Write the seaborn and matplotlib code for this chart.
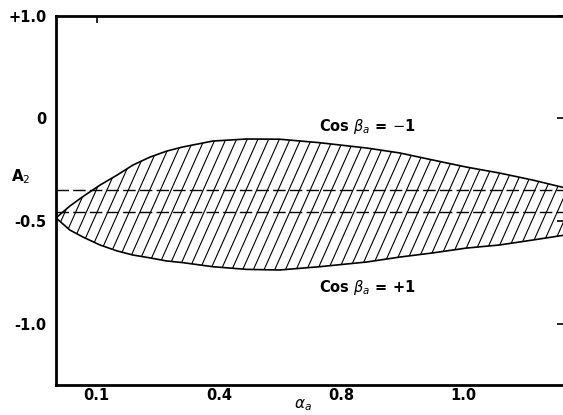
import numpy as np
import pandas as pd
import matplotlib
matplotlib.use("Agg")
import matplotlib.pyplot as plt
from matplotlib.collections import LineCollection
import seaborn as sns

# ---- data (x in plot units, ticks labelled below) ----
alpha = [0.0, 0.034, 0.066, 0.108, 0.150, 0.189, 0.231, 0.272, 0.311, 0.385,
         0.468, 0.549, 0.647, 0.763, 0.844, 0.924, 1.008, 1.089, 1.170, 1.245]
upper = [-0.485, -0.427, -0.381, -0.325, -0.276, -0.227, -0.188, -0.159, -0.139, -0.110,
         -0.100, -0.101, -0.118, -0.144, -0.168, -0.202, -0.237, -0.266, -0.300, -0.336]
lower = [-0.485, -0.544, -0.578, -0.617, -0.646, -0.666, -0.680, -0.695, -0.703, -0.723,
         -0.736, -0.739, -0.723, -0.700, -0.676, -0.656, -0.632, -0.617, -0.593, -0.570]
dashed_levels = [-0.349, -0.455]

xtick_pos = [0.1, 0.4, 0.7, 1.0]
xtick_labels = ["0.1", "0.4", "0.8", "1.0"]
ytick_pos = [0.5, 0.0, -0.5, -1.0]
ytick_labels = ["+1.0", "0", "-0.5", "-1.0"]

df = pd.DataFrame({"alpha": alpha, "upper": upper, "lower": lower})

sns.set_style("white")
plt.rcParams["font.family"] = ["DejaVu Sans"]
plt.rcParams["text.color"] = "black"
plt.rcParams["xtick.color"] = "black"
plt.rcParams["ytick.color"] = "black"
plt.rcParams["axes.labelcolor"] = "black"

fig = plt.figure(figsize=(5.63, 4.15), dpi=100)
L, B, R, T = 56 / 563, 1 - 385 / 415, 1.0, 1 - 16 / 415
ax = fig.add_axes([L, B, R - L, T - B])

xmin, xmax = 0.0, 1.245
ax.set_xlim(xmin, xmax)
ax.set_ylim(-1.30, 0.50)

# band
poly = ax.fill_between(df["alpha"], df["lower"], df["upper"], facecolor="none",
                       edgecolor="none")
sns.lineplot(data=df, x="alpha", y="upper", ax=ax, color="black", lw=1.2,
             estimator=None, sort=False)
sns.lineplot(data=df, x="alpha", y="lower", ax=ax, color="black", lw=1.2,
             estimator=None, sort=False)

# steep hatching clipped to band
W_px, H_px = (R - L) * 563, (T - B) * 415
slant = H_px / np.tan(np.radians(66))
spacing = 10.7
segs = []
x0 = -slant
while x0 < W_px + spacing:
    segs.append([(x0 / W_px, 0.0), ((x0 + slant) / W_px, 1.0)])
    x0 += spacing
lc = LineCollection(segs, colors="black", linewidths=0.8, transform=ax.transAxes)
ax.add_collection(lc)
lc.set_clip_path(poly.get_paths()[0], ax.transData)

for lev in dashed_levels:
    ax.axhline(lev, color="black", lw=1.0, linestyle=(0, (9, 3)))

ax.text(0.765, -0.04, r"Cos $\beta_a$ = $-$1", ha="center", va="center",
        fontsize=10.5, fontweight="bold")
ax.text(0.765, -0.825, r"Cos $\beta_a$ = +1", ha="center", va="center",
        fontsize=10.5, fontweight="bold")

ax.set_xticks(xtick_pos)
ax.set_xticklabels(xtick_labels)
ax.set_yticks(ytick_pos)
ax.set_yticklabels(ytick_labels)
ax.tick_params(axis="x", direction="in", length=5, width=1.2, labelsize=10.5,
               pad=2.5, colors="black")
ax.tick_params(axis="y", direction="inout", length=8, width=1.2, labelsize=10.5,
               pad=3, right=True, colors="black")
for lbl in ax.get_xticklabels() + ax.get_yticklabels():
    lbl.set_fontweight("bold")

top = ax.secondary_xaxis("top")
top.set_xticks([0.1])
top.set_xticklabels([""])
top.tick_params(direction="in", length=5, width=1.2, colors="black")
top.spines["top"].set_visible(False)

ax.set_xlabel(r"$\alpha_a$", fontsize=11)
ax.xaxis.set_label_coords(0.487, -0.033)
ax.set_ylabel(r"A$_2$", rotation=0, fontsize=11, fontweight="bold")
ax.yaxis.set_label_coords(-0.07, 0.54)

for s in ["left", "bottom", "top"]:
    ax.spines[s].set_visible(True)
    ax.spines[s].set_linewidth(2.0)
    ax.spines[s].set_color("black")
ax.spines["right"].set_visible(False)

fig.savefig("out.png", dpi=100)
